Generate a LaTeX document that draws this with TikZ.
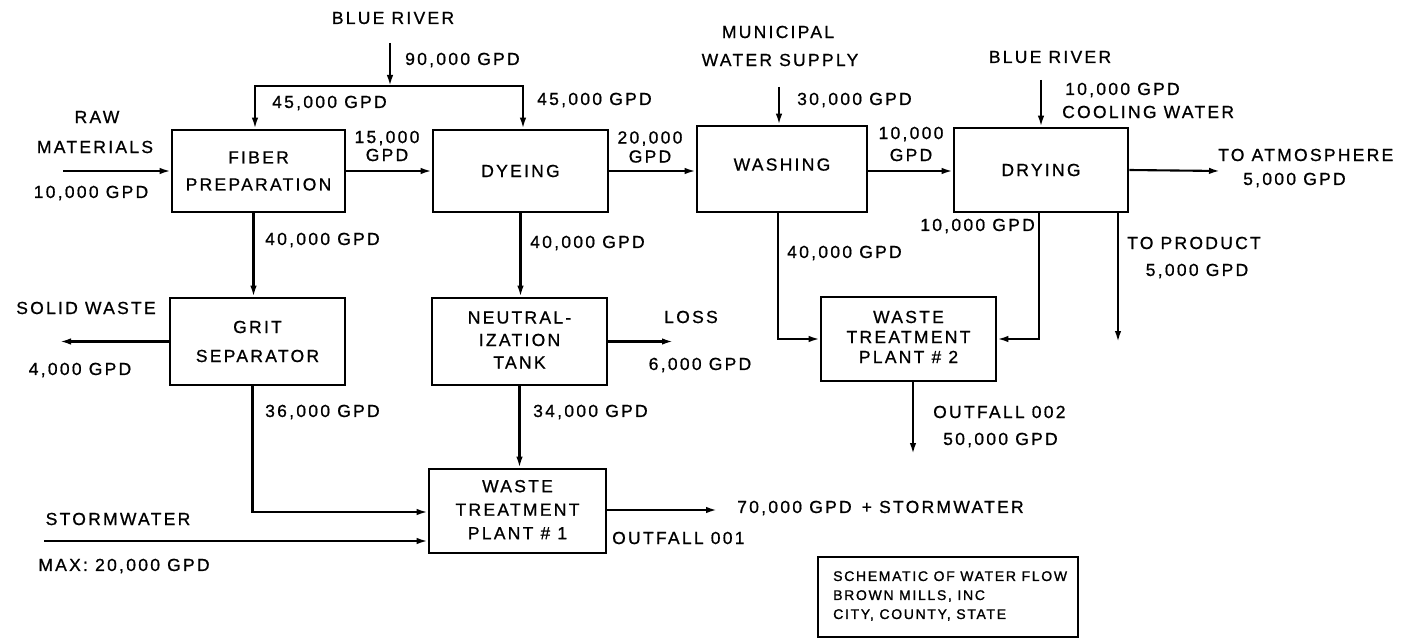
\documentclass[tikz,border=0pt]{standalone}
\usepackage{fontspec}
\setmainfont[LetterSpace=13,FakeBold=0.8]{Liberation Sans}
\newfontfamily\legendfont[LetterSpace=12,FakeBold=1.2]{Liberation Sans}
\usetikzlibrary{arrows.meta}
\newcommand{\fs}[1]{\fontsize{17.5}{#1}\selectfont}
\begin{document}
\begin{tikzpicture}[x=1pt,y=-1pt,
  box/.style={draw, line width=2.6pt, inner sep=0pt, align=center, font=\fs{20}},
  flow/.style={line width=2.1pt, -{Latex[length=11pt,width=6.5pt]}},
  lbl/.style={inner sep=0pt, align=center, font=\fs{20}},
  lblw/.style={lbl, anchor=west},
  lble/.style={lbl, anchor=east}]
\useasboundingbox (0,0) rectangle (1403,639);
\fill[white] (0,0) rectangle (1403,639);

% process boxes
\node[box, minimum width=173pt, minimum height=82pt, font=\fs{27}] (fiber) at (258.5,171) {FIBER\\PREPARATION};
\node[box, minimum width=175pt, minimum height=82pt] (dye) at (520.5,171) {DYEING};
\node[box, minimum width=170pt, minimum height=86pt] (wash) at (782,169) {\raisebox{9pt}{WASHING}};
\node[box, minimum width=174pt, minimum height=84pt] (dry) at (1041,170) {DRYING};
\node[box, minimum width=175pt, minimum height=87pt, font=\fs{29}] (grit) at (257.5,341.5) {GRIT\\SEPARATOR};
\node[box, minimum width=175pt, minimum height=87pt, font=\fs{22.5}] (neut) at (519.5,341.5) {\raisebox{4pt}{\begin{tabular}{@{}c@{}}NEUTRAL-\\IZATION\\TANK\end{tabular}}};
\node[box, minimum width=175pt, minimum height=84pt, font=\fs{20}] (wtp2) at (908.5,339) {\raisebox{7pt}{\begin{tabular}{@{}c@{}}WASTE\\TREATMENT\\PLANT \# 2\end{tabular}}};
\node[box, minimum width=177pt, minimum height=84pt, font=\fs{23.5}] (wtp1) at (517.5,511) {\raisebox{2pt}{\begin{tabular}{@{}c@{}}WASTE\\TREATMENT\\PLANT \# 1\end{tabular}}};
\node[draw, line width=2.4pt, minimum width=260pt, minimum height=80pt, inner sep=0pt] (legend) at (948,597) {};
\node[anchor=west, inner sep=0pt, align=left, font=\legendfont\fontsize{14}{19}\selectfont] (legtext) at (833,596) {SCHEMATIC OF WATER FLOW\\BROWN MILLS, INC\\CITY, COUNTY, STATE};

% free ends
\coordinate (br) at (390,43);
\coordinate (j) at (390,86);
\coordinate (raw) at (63,171);
\coordinate (mun) at (779,87);
\coordinate (br2) at (1041,80);
\coordinate (atm) at (1220,171);
\coordinate (sol) at (60,341.5);
\coordinate (loss) at (673,341.5);
\coordinate (prod) at (1118,342);
\coordinate (out2) at (913,454);
\coordinate (out1) at (717,510);
\coordinate (sw) at (44,541);

% connectors
\draw[flow] (br) -- (j);
\draw[flow] (j) -| ([xshift=-3.5pt]fiber.north);
\draw[flow] (j) -| ([xshift=2.5pt]dye.north);
\draw[flow] (raw) -- (raw -| fiber.west);
\draw[flow] (fiber.east) -- (dye.west);
\draw[flow] (dye.east) -- (dye.east -| wash.west);
\draw[flow] (dye.east -| wash.east) -- (dye.east -| dry.west);
\draw[flow] (dry.east) -- (atm);
\draw[flow] (mun) -- (mun |- wash.north);
\draw[flow] (br2) -- (br2 |- dry.north);
\draw[flow] ([xshift=-5pt]fiber.south) -- ([xshift=-5pt]fiber.south |- grit.north);
\draw[flow] (dye.south) -- (dye.south |- neut.north);
\draw[flow] (grit.west) -- (sol);
\draw[flow] (neut.east) -- (loss);
\draw[flow] ([xshift=-4pt]wash.south) |- (wtp2.west);
\draw[flow] ([xshift=-2pt]dry.south) |- (wtp2.east);
\draw[flow] (dry.south -| prod) -- (prod);
\draw[flow] (wtp2.south -| out2) -- (out2);
\draw[flow] ([xshift=-5pt]grit.south) |- ([yshift=-1pt]wtp1.west);
\draw[flow] (neut.south) -- (neut.south |- wtp1.north);
\draw[flow] (sw) -- (sw -| wtp1.west);
\draw[flow] ([yshift=1pt]wtp1.east) -- (out1);

% labels
\node[lbl] (tBR) at (393,18) {BLUE RIVER};
\node[lblw] (t90) at (405,60) {90,000 GPD};
\node[lblw] (t45a) at (272,103) {45,000 GPD};
\node[lblw] (t45b) at (537,100) {45,000 GPD};
\node[lbl] (tRaw) at (97,117) {RAW};
\node[lbl] (tMat) at (95,147) {MATERIALS};
\node[lbl] (t10a) at (91,193) {10,000 GPD};
\node[lbl, font=\fs{18}] (t15) at (387,146) {15,000\\GPD};
\node[lbl, font=\fs{19}] (t20) at (650,147) {20,000\\GPD};
\node[lbl] (tMun) at (778,32) {MUNICIPAL};
\node[lbl] (tWS) at (780,60) {WATER SUPPLY};
\node[lblw] (t30) at (797,100) {30,000 GPD};
\node[lbl, font=\fs{22}] (t10b) at (911,144) {10,000\\GPD};
\node[lbl] (tBR2) at (1050,57) {BLUE RIVER};
\node[lblw] (t10c) at (1065,90) {10,000 GPD};
\node[lblw] (tCW) at (1062,112) {COOLING WATER};
\node[lblw] (tAtm) at (1218,155) {TO ATMOSPHERE};
\node[lblw] (t5a) at (1243,180) {5,000 GPD};
\node[lblw] (t40a) at (265,240) {40,000 GPD};
\node[lblw] (t40b) at (530,243) {40,000 GPD};
\node[lble] (t10d) at (1035,226) {10,000 GPD};
\node[lblw] (t40c) at (787,253) {40,000 GPD};
\node[lblw] (tProd) at (1127,243) {TO PRODUCT};
\node[lbl] (t5b) at (1197,271) {5,000 GPD};
\node[lbl] (tSol) at (86,308) {SOLID WASTE};
\node[lbl] (t4) at (80,370) {4,000 GPD};
\node[lbl] (tLoss) at (691,317) {LOSS};
\node[lbl] (t6) at (700,365) {6,000 GPD};
\node[lblw] (t36) at (265,412) {36,000 GPD};
\node[lblw] (t34) at (533,412) {34,000 GPD};
\node[lblw] (tO2) at (933,412) {OUTFALL 002};
\node[lblw] (t50) at (943,440) {50,000 GPD};
\node[lblw] (t70) at (737,508) {70,000 GPD\, + STORMWATER};
\node[lblw] (tO1) at (612,538) {OUTFALL 001};
\node[lbl] (tSW) at (118,519) {STORMWATER};
\node[lbl] (tMax) at (124,566) {MAX: 20,000 GPD};
\end{tikzpicture}
\end{document}
